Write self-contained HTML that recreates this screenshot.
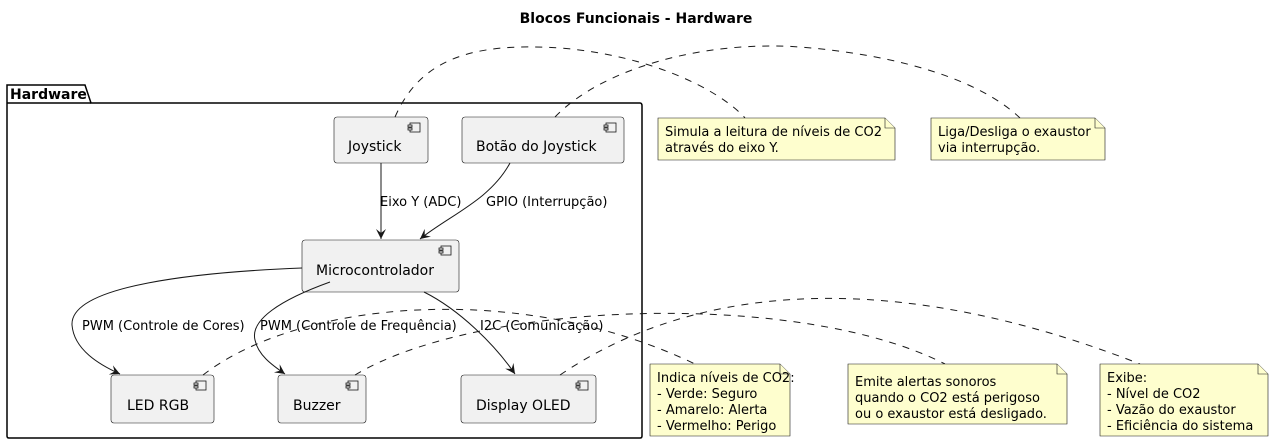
<!DOCTYPE html>
<html><head><meta charset="utf-8"><style>
body{margin:0;background:#fff}
svg{display:block;font-family:"DejaVu Sans","Liberation Sans",sans-serif}
</style></head><body>
<svg width="1273" height="444" viewBox="0 0 1273 444" xmlns="http://www.w3.org/2000/svg">
<defs><marker id="a" markerWidth="12" markerHeight="12" refX="10" refY="5" orient="auto" markerUnits="userSpaceOnUse"><path d="M0,0 L10,5 L0,10 L4,5 Z" fill="#181818"/></marker>
<g id="ic"><rect x="2" y="0" width="10" height="9" fill="none" stroke="#181818" stroke-width="0.8"/><rect x="0" y="2" width="4" height="2" fill="#f1f1f1" stroke="#181818" stroke-width="0.8"/><rect x="0" y="5" width="4" height="2" fill="#f1f1f1" stroke="#181818" stroke-width="0.8"/></g>
</defs>
<text x="636" y="23" text-anchor="middle" font-size="14" font-weight="bold">Blocos Funcionais - Hardware</text>
<path d="M7,103 L7,85 L85,85 L91,103 L640,103 Q642,103 642,106 L642,436 Q642,438 640,438 L9,438 Q7,438 7,436 Z" fill="none" stroke="#000" stroke-width="1.5"/>
<line x1="7" y1="103" x2="91" y2="103" stroke="#000" stroke-width="1.5"/>
<text x="10" y="99" font-size="14" font-weight="bold">Hardware</text>
<g fill="#f1f1f1" stroke="#181818" stroke-width="0.6">
<rect x="334" y="117" width="94" height="46" rx="3"/>
<rect x="462" y="117" width="162" height="46" rx="3"/>
<rect x="302" y="240" width="157" height="52" rx="3"/>
<rect x="111" y="375" width="103" height="48" rx="3"/>
<rect x="278" y="375" width="88" height="48" rx="3"/>
<rect x="461" y="375" width="135" height="48" rx="3"/>
</g>
<use href="#ic" x="408" y="123"/><use href="#ic" x="604" y="123"/><use href="#ic" x="439" y="246"/>
<use href="#ic" x="194" y="381"/><use href="#ic" x="346" y="381"/><use href="#ic" x="576" y="381"/>
<g font-size="14" fill="#000">
<text x="348" y="151">Joystick</text>
<text x="476" y="151">Botão do Joystick</text>
<text x="316" y="275">Microcontrolador</text>
<text x="127" y="410">LED RGB</text>
<text x="293" y="410">Buzzer</text>
<text x="476" y="410">Display OLED</text>
</g>
<g fill="none" stroke="#181818" stroke-width="1">
<path d="M381,163 L381,239" marker-end="url(#a)"/>
<path d="M510,163 C490,200 450,215 420,239" marker-end="url(#a)"/>
<path d="M302,268 C200,272 70,285 72,325 C74,350 100,365 120,374" marker-end="url(#a)"/>
<path d="M330,282 C280,300 250,320 255,340 C258,355 272,365 285,374" marker-end="url(#a)"/>
<path d="M424,292 C460,310 495,345 515,374" marker-end="url(#a)"/>
</g>
<g font-size="13" fill="#000">
<text x="380" y="206">Eixo Y (ADC)</text>
<text x="486" y="206">GPIO (Interrupção)</text>
<text x="82" y="330">PWM (Controle de Cores)</text>
<text x="260" y="330">PWM (Controle de Frequência)</text>
<text x="480" y="330">I2C (Comunicação)</text>
</g>
<g fill="none" stroke="#181818" stroke-width="1" stroke-dasharray="7,7">
<path d="M395,117 C420,60 470,42 560,48 C650,55 720,90 745,118"/>
<path d="M555,117 C600,70 700,40 800,47 C900,55 980,80 1020,118"/>
<path d="M203,375 C300,300 520,280 695,364"/>
<path d="M355,375 C480,300 800,290 945,364"/>
<path d="M560,375 C700,280 900,270 1140,364"/>
</g>
<g fill="#fefece" stroke="#181818" stroke-width="0.6">
<path d="M658,118 L885,118 L895,128 L895,160 L658,160 Z"/><path d="M885,118 L885,128 L895,128"/>
<path d="M931,118 L1095,118 L1105,128 L1105,160 L931,160 Z"/><path d="M1095,118 L1095,128 L1105,128"/>
<path d="M650,364 L780,364 L790,374 L790,436 L650,436 Z"/><path d="M780,364 L780,374 L790,374"/>
<path d="M848,364 L1057,364 L1067,374 L1067,424 L848,424 Z"/><path d="M1057,364 L1057,374 L1067,374"/>
<path d="M1100,364 L1258,364 L1268,374 L1268,436 L1100,436 Z"/><path d="M1258,364 L1258,374 L1268,374"/>
</g>
<g font-size="13" fill="#000">
<text x="665" y="136">Simula a leitura de níveis de CO2</text>
<text x="665" y="152">através do eixo Y.</text>
<text x="938" y="136">Liga/Desliga o exaustor</text>
<text x="938" y="152">via interrupção.</text>
<text x="657" y="382">Indica níveis de CO2:</text>
<text x="657" y="398">- Verde: Seguro</text>
<text x="657" y="414">- Amarelo: Alerta</text>
<text x="657" y="430">- Vermelho: Perigo</text>
<text x="855" y="386">Emite alertas sonoros</text>
<text x="855" y="402">quando o CO2 está perigoso</text>
<text x="855" y="418">ou o exaustor está desligado.</text>
<text x="1107" y="382">Exibe:</text>
<text x="1107" y="398">- Nível de CO2</text>
<text x="1107" y="414">- Vazão do exaustor</text>
<text x="1107" y="430">- Eficiência do sistema</text>
</g>
</svg>
</body></html>
